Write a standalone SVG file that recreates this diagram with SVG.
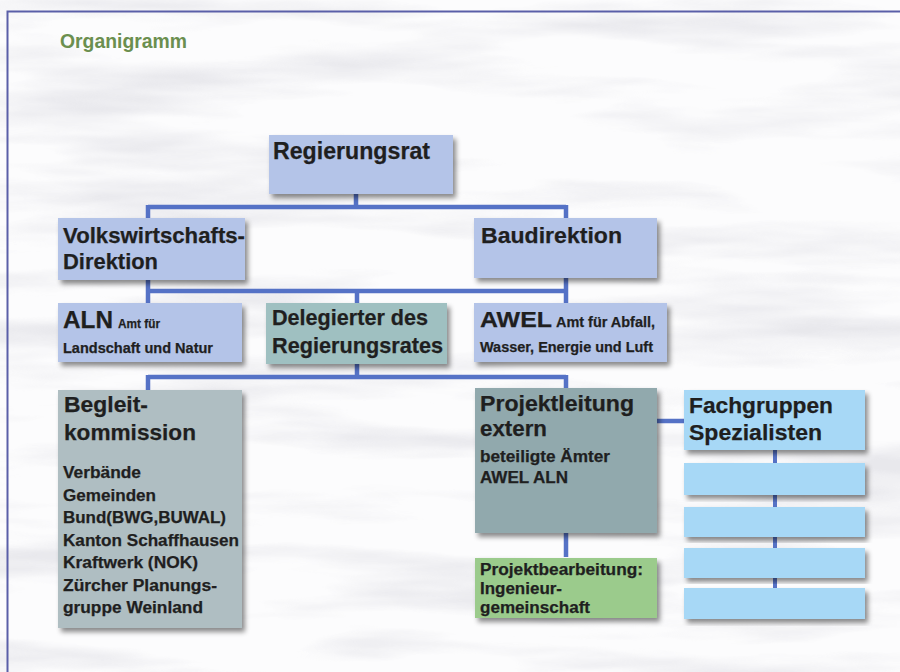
<svg xmlns="http://www.w3.org/2000/svg" width="900" height="672" viewBox="0 0 900 672">
<defs>
<filter id="sh" x="-10%" y="-10%" width="125%" height="130%">
<feDropShadow dx="3" dy="4" stdDeviation="2.5" flood-color="#000" flood-opacity="0.45"/>
</filter>
<filter id="wf" x="0" y="0" width="100%" height="100%">
<feTurbulence type="fractalNoise" baseFrequency="0.003 0.022" numOctaves="4" seed="7" result="n"/>
<feColorMatrix in="n" type="matrix" values="0 0 0 0 0.62  0 0 0 0 0.62  0 0 0 0 0.68  3.2 0 0 0 -1.5"/>
</filter>
<style>
.t{font-family:"Liberation Sans",Arial,sans-serif;font-weight:bold;fill:#1f1f1f;stroke:#1f1f1f;stroke-width:0.25}
.big{font-size:22.5px}
.sm{font-size:16px}
.xs{font-size:14px}
.ln{stroke:#5572c6;stroke-width:4.5;fill:none}
.lnt{stroke:#5572c6;stroke-width:4;fill:none}
</style>
</defs>
<rect width="900" height="672" fill="#fcfcfd"/>
<rect id="water" width="900" height="672" filter="url(#wf)" opacity="0.42"/>
<path d="M7.5 672 V11.5 H900" fill="none" stroke="#5a5fa8" stroke-width="2"/>
<text x="60" y="48" font-family="Liberation Sans,Arial,sans-serif" font-weight="bold" font-size="19.5" fill="#6b8f4f" textLength="127" lengthAdjust="spacingAndGlyphs">Organigramm</text>

<g id="connectors">
<path class="ln" d="M356 193 V207 M148 207 H566 M148 205 V218 M566 205 V218"/>
<path class="ln" d="M148 280 V303 M566 278 V303 M148 291 H566 M357 291 V303"/>
<path class="ln" d="M357 364 V377 M148 377 H566 M148 375 V390 M566 375 V388"/>
<path class="ln" d="M566 532 V557"/>
<path class="ln" d="M656 421 H684"/>
<path class="lnt" d="M775 450 V463 M775 495 V507 M775 537 V548 M775 578 V588"/>
</g>

<g id="regierungsrat">
<rect x="269" y="135" width="184" height="59" fill="#b4c4e8" filter="url(#sh)"/>
<text class="t" font-size="23" x="273" y="159" textLength="157" lengthAdjust="spacingAndGlyphs">Regierungsrat</text>
</g>
<g id="volkswirtschaft">
<rect x="58" y="218" width="187" height="62" fill="#b4c4e8" filter="url(#sh)"/>
<text class="t big" x="63" y="243" textLength="182" lengthAdjust="spacingAndGlyphs">Volkswirtschafts-</text>
<text class="t big" x="63" y="269" textLength="95" lengthAdjust="spacingAndGlyphs">Direktion</text>
</g>
<g id="baudirektion">
<rect x="474" y="218" width="183" height="60" fill="#b4c4e8" filter="url(#sh)"/>
<text class="t big" x="481" y="243" textLength="141" lengthAdjust="spacingAndGlyphs">Baudirektion</text>
</g>
<g id="aln">
<rect x="58" y="303" width="184" height="59" fill="#b4c4e8" filter="url(#sh)"/>
<text class="t" font-size="23" x="63" y="328" textLength="50" lengthAdjust="spacingAndGlyphs">ALN</text>
<text class="t" font-size="13" x="118" y="328" textLength="42" lengthAdjust="spacingAndGlyphs">Amt für</text>
<text class="t xs" x="63" y="353" textLength="150" lengthAdjust="spacingAndGlyphs">Landschaft und Natur</text>
</g>
<g id="delegierter">
<rect x="266" y="303" width="181" height="61" fill="#9fc0c1" filter="url(#sh)"/>
<text class="t" font-size="21.5" x="272" y="325" textLength="156" lengthAdjust="spacingAndGlyphs">Delegierter des</text>
<text class="t" font-size="21.5" x="272" y="353" textLength="171" lengthAdjust="spacingAndGlyphs">Regierungsrates</text>
</g>
<g id="awel">
<rect x="474" y="303" width="193" height="59" fill="#b4c4e8" filter="url(#sh)"/>
<text class="t" font-size="22" x="480" y="327" textLength="72" lengthAdjust="spacingAndGlyphs">AWEL</text>
<text class="t xs" x="556" y="327" textLength="99" lengthAdjust="spacingAndGlyphs">Amt für Abfall,</text>
<text class="t xs" x="480" y="352" textLength="173" lengthAdjust="spacingAndGlyphs">Wasser, Energie und Luft</text>
</g>
<g id="begleitkommission">
<rect x="58" y="390" width="184" height="238" fill="#afbec2" filter="url(#sh)"/>
<text class="t big" x="64" y="412" textLength="84" lengthAdjust="spacingAndGlyphs">Begleit-</text>
<text class="t big" x="64" y="440" textLength="132" lengthAdjust="spacingAndGlyphs">kommission</text>
<text class="t sm" x="63" y="478" textLength="78" lengthAdjust="spacingAndGlyphs">Verbände</text>
<text class="t sm" x="63" y="500.5" textLength="93" lengthAdjust="spacingAndGlyphs">Gemeinden</text>
<text class="t sm" x="63" y="523" textLength="163" lengthAdjust="spacingAndGlyphs">Bund(BWG,BUWAL)</text>
<text class="t sm" x="63" y="545.5" textLength="176" lengthAdjust="spacingAndGlyphs">Kanton Schaffhausen</text>
<text class="t sm" x="63" y="568" textLength="135" lengthAdjust="spacingAndGlyphs">Kraftwerk (NOK)</text>
<text class="t sm" x="63" y="590.5" textLength="154" lengthAdjust="spacingAndGlyphs">Zürcher Planungs-</text>
<text class="t sm" x="63" y="613" textLength="140" lengthAdjust="spacingAndGlyphs">gruppe Weinland</text>
</g>
<g id="projektleitung">
<rect x="475" y="388" width="182" height="145" fill="#91a9ad" filter="url(#sh)"/>
<text class="t" font-size="21.5" x="480" y="411" textLength="154" lengthAdjust="spacingAndGlyphs">Projektleitung</text>
<text class="t" font-size="21.5" x="480" y="436" textLength="67" lengthAdjust="spacingAndGlyphs">extern</text>
<text class="t sm" x="480" y="462" textLength="130" lengthAdjust="spacingAndGlyphs">beteiligte Ämter</text>
<text class="t sm" x="480" y="483" textLength="88" lengthAdjust="spacingAndGlyphs">AWEL ALN</text>
</g>
<g id="projektbearbeitung">
<rect x="475" y="558" width="182" height="60" fill="#9bcb8c" filter="url(#sh)"/>
<text class="t sm" x="480" y="575" textLength="163" lengthAdjust="spacingAndGlyphs">Projektbearbeitung:</text>
<text class="t sm" x="480" y="594" textLength="82" lengthAdjust="spacingAndGlyphs">Ingenieur-</text>
<text class="t sm" x="480" y="613" textLength="110" lengthAdjust="spacingAndGlyphs">gemeinschaft</text>
</g>
<g id="fachgruppen">
<rect x="684" y="390" width="181" height="60" fill="#a7d8f6" filter="url(#sh)"/>
<text class="t big" x="689" y="413" textLength="144" lengthAdjust="spacingAndGlyphs">Fachgruppen</text>
<text class="t big" x="689" y="440" textLength="133" lengthAdjust="spacingAndGlyphs">Spezialisten</text>
</g>
<g id="spezialist1"><rect x="684" y="463" width="181" height="32" fill="#a7d8f6" filter="url(#sh)"/></g>
<g id="spezialist2"><rect x="684" y="507" width="181" height="30" fill="#a7d8f6" filter="url(#sh)"/></g>
<g id="spezialist3"><rect x="684" y="548" width="181" height="30" fill="#a7d8f6" filter="url(#sh)"/></g>
<g id="spezialist4"><rect x="684" y="588" width="181" height="31" fill="#a7d8f6" filter="url(#sh)"/></g>
</svg>
